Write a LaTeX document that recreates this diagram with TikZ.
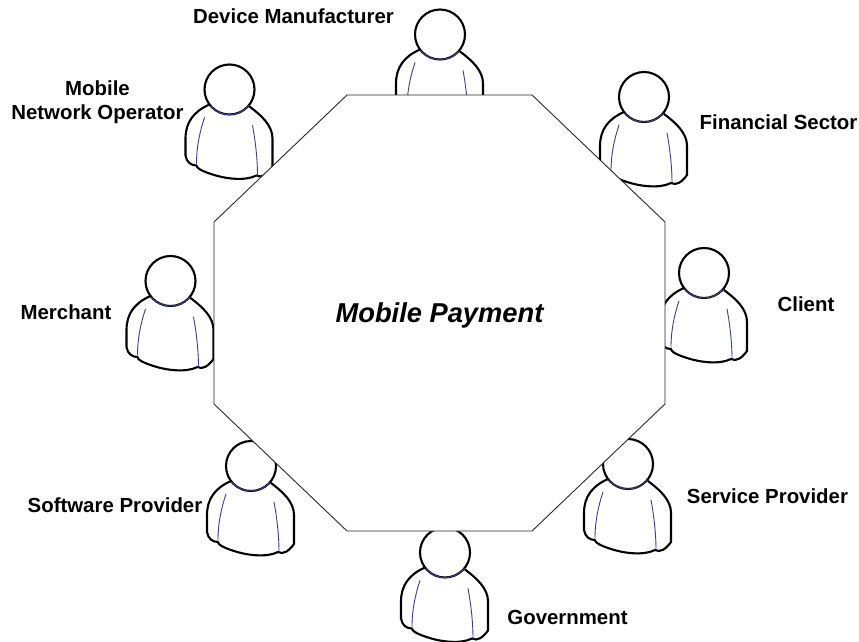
\documentclass[tikz,border=0pt]{standalone}
\usepackage{fontspec}
\setmainfont{Liberation Sans}
\definecolor{seam}{HTML}{3F3F85}
\definecolor{edgec}{HTML}{2A2A2A}
\tikzset{x=1pt,y=-1pt,
  lab/.style={font=\fontsize{20.4}{24}\selectfont\bfseries,align=center,text=black,inner sep=0pt},
  title/.style={font=\fontsize{27.3}{32}\selectfont\bfseries\itshape,inner sep=0pt,anchor=base},
  outline/.style={line width=2.1pt,black,line join=round,line cap=round},
  seamline/.style={line width=0.9pt,seam,line cap=round},
  table/.style={draw=edgec,line width=0.9pt,fill=white,line join=miter},
  person/.pic={
    \path[fill=white] (-20,15) .. controls (-36,22) and (-44,33) .. (-44,49)
      -- (-44,66) .. controls (-43,73) and (-38,76) .. (-33,76)
      .. controls (-33,80) and (-20,84) .. (-17,85)
      .. controls (-5,89) and (15,92) .. (27,86)
      .. controls (32,89) and (38,85) .. (43,78)
      -- (43,49) .. controls (43,36) and (32,26) .. (20,17) -- cycle;
    \draw[outline] (-20,15) .. controls (-36,22) and (-44,33) .. (-44,49)
      -- (-44,66) .. controls (-43,73) and (-38,76) .. (-33,76)
      .. controls (-33,80) and (-20,84) .. (-17,85)
      .. controls (-5,89) and (15,92) .. (27,86)
      .. controls (32,89) and (38,85) .. (43,78)
      -- (43,49) .. controls (43,36) and (32,26) .. (20,17);
    \draw[seamline] (-25,28) .. controls (-30,43) and (-33,58) .. (-33,74);
    \draw[seamline] (23,36) .. controls (26,52) and (28,70) .. (28,86);
    \draw[outline,fill=white] (0,0) circle[radius=25];
    \draw[seamline,line width=1pt] (0,0) ++(40:25) arc[start angle=40,end angle=140,radius=25];
  }
}
\begin{document}
\begin{tikzpicture}
\useasboundingbox (0,0) rectangle (859,642);
\fill[white] (0,0) rectangle (859,642);
\pic (pDevice) at (440,34.5) {person};
\pic (pMobile) at (229.5,89.5) {person};
\pic (pFinancial) at (644,97) {person};
\pic (pMerchant) at (170.5,281) {person};
\pic (pClient) at (704,273) {person};
\pic (pSoftware) at (251,466) {person};
\pic (pService) at (628,464) {person};
\pic (pGovernment) at (445,552.5) {person};
\path[table] (347,95) coordinate (o1) -- (532,95) coordinate (o2) -- (665,222) coordinate (o3)
  -- (665,404) coordinate (o4) -- (532,531) coordinate (o5) -- (347,531) coordinate (o6)
  -- (214,404) coordinate (o7) -- (214,222) coordinate (o8) -- cycle;
\node[title] (center) at (439.5,322) {Mobile Payment};
\node[lab] (lDevice) at (293.5,16) {Device Manufacturer};
\node[lab] (lMobile) at (97.5,102.5) {Mobile\\Network Operator};
\node[lab] (lFinancial) at (778.5,122) {Financial Sector};
\node[lab] (lMerchant) at (66,312) {Merchant};
\node[lab] (lClient) at (806,304) {Client};
\node[lab] (lSoftware) at (115,505) {Software Provider};
\node[lab] (lService) at (767.5,496) {Service Provider};
\node[lab] (lGovernment) at (567.5,617) {Government};
\end{tikzpicture}
\end{document}
